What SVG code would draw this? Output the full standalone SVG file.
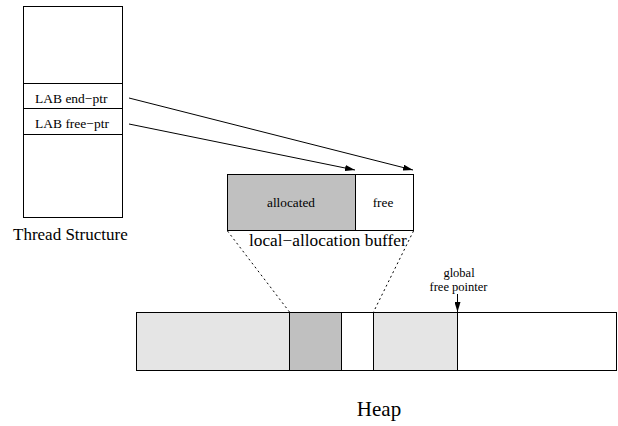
<svg xmlns="http://www.w3.org/2000/svg" width="618" height="426" viewBox="0 0 618 426">
  <style>
    .box { stroke: #000; stroke-width: 1; }
    text { font-family: 'Liberation Serif', 'DejaVu Serif', serif; fill: #000; }
    .ln { stroke: #000; stroke-width: 1; fill: none; }
    .dash { stroke: #000; stroke-width: 1; fill: none; stroke-dasharray: 2 3; }
  </style>
  <defs>
    <marker id="arrow" viewBox="0 0 10 6" refX="10" refY="3" markerWidth="10" markerHeight="6" markerUnits="userSpaceOnUse" orient="auto">
      <path d="M0,0 L10,3 L0,6 z" fill="#000"/>
    </marker>
  </defs>
  <rect width="618" height="426" fill="#fff"/>

  <!-- thread structure with its two LAB pointer slots -->
  <g id="thread-structure">
    <rect class="box" x="23.5" y="6.5" width="99" height="211" fill="#fff"/>
    <line class="ln" x1="23.5" y1="83.5" x2="122.5" y2="83.5"/>
    <line class="ln" x1="23.5" y1="108.5" x2="122.5" y2="108.5"/>
    <line class="ln" x1="23.5" y1="134.5" x2="122.5" y2="134.5"/>
    <text x="35" y="103" font-size="13.5" font-family="Liberation Serif, serif">LAB end−ptr</text>
    <text x="35" y="128" font-size="13.5" font-family="Liberation Serif, serif">LAB free−ptr</text>
    <text x="13" y="240" font-size="17" font-family="Liberation Serif, serif">Thread Structure</text>
  </g>

  <!-- local-allocation buffer -->
  <g id="lab">
    <rect x="227.5" y="174.5" width="128" height="56" fill="#c0c0c0" class="box"/>
    <rect x="355.5" y="174.5" width="58" height="56" fill="#fff" class="box"/>
    <text x="291" y="207" font-size="13.3" text-anchor="middle" font-family="Liberation Serif, serif">allocated</text>
    <text x="383" y="207" font-size="13.3" text-anchor="middle" font-family="Liberation Serif, serif">free</text>
    <text x="249" y="246" font-size="17.3" font-family="Liberation Serif, serif">local−allocation buffer</text>
  </g>

  <!-- heap -->
  <g id="heap">
    <rect x="136.5" y="312.5" width="153" height="58" fill="#e5e5e5" class="box"/>
    <rect x="289.5" y="312.5" width="52" height="58" fill="#c0c0c0" class="box"/>
    <rect x="341.5" y="312.5" width="32" height="58" fill="#fff" class="box"/>
    <rect x="373.5" y="312.5" width="84" height="58" fill="#e5e5e5" class="box"/>
    <rect x="457.5" y="312.5" width="159" height="58" fill="#fff" class="box"/>
    <text x="379" y="416" font-size="21" text-anchor="middle" font-family="Liberation Serif, serif">Heap</text>
  </g>

  <g id="global-free-pointer">
    <text x="459" y="277" font-size="12.5" text-anchor="middle" font-family="Liberation Serif, serif">global</text>
    <text x="458.5" y="291" font-size="12.5" text-anchor="middle" font-family="Liberation Serif, serif">free pointer</text>
  </g>

  <!-- connectors -->
  <g id="connectors">
    <line class="ln" x1="129" y1="98" x2="413" y2="170" marker-end="url(#arrow)"/>
    <line class="ln" x1="129" y1="124" x2="355" y2="170" marker-end="url(#arrow)"/>
    <line class="ln" x1="457.5" y1="294" x2="457.5" y2="312" marker-end="url(#arrow)"/>
    <line class="dash" x1="227.5" y1="231" x2="289.5" y2="312"/>
    <line class="dash" x1="413.5" y1="231" x2="373.5" y2="312"/>
  </g>
</svg>
